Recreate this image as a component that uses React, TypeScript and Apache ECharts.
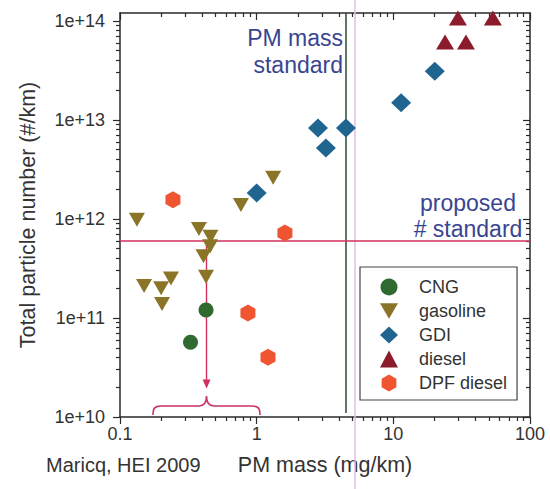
import React, { useEffect, useRef } from 'react';
import * as echarts from 'echarts';

// ---------------- data ----------------
const seriesNames = ['CNG', 'gasoline', 'GDI', 'diesel', 'DPF diesel'];

const cngData: number[][] = [
  [0.426, 1.2e11],
  [0.328, 5.7e10],
];

const gasolineData: number[][] = [
  [0.133, 9.8e11],
  [0.378, 7.9e11],
  [0.459, 6.6e11],
  [0.457, 5.3e11],
  [0.408, 4.2e11],
  [0.426, 2.6e11],
  [0.15, 2.1e11],
  [0.2, 2.0e11],
  [0.236, 2.5e11],
  [0.203, 1.38e11],
  [0.767, 1.38e12],
  [1.32, 2.6e12],
];

const gdiData: number[][] = [
  [1.0, 1.83e12],
  [2.81, 8.3e12],
  [3.21, 5.2e12],
  [4.5, 8.3e12],
  [11.4, 1.49e13],
  [20.1, 3.1e13],
];

const dieselData: number[][] = [
  [29.7, 1.07e14],
  [53.5, 1.07e14],
  [23.9, 6.1e13],
  [34.0, 6.1e13],
];

const dpfDieselData: number[][] = [
  [0.244, 1.56e12],
  [1.61, 7.2e11],
  [0.863, 1.12e11],
  [1.21, 4.0e10],
];

const xTickValues = [0.1, 1, 10, 100];
const xTickLabels = ['0.1', '1', '10', '100'];
const yTickValues = [1e10, 1e11, 1e12, 1e13, 1e14];
const yTickLabels = ['1e+10', '1e+11', '1e+12', '1e+13', '1e+14'];

const X_MIN = 0.1;
const X_MAX = 100;
const Y_MIN = 1e10;
const Y_MAX = 1.2e14;

const pmMassStandard = 4.5; // mg/km
const pmLineBottom = 1.1e10;
const proposedNumberStandard = 6e11; // #/km
const arrowX = 0.43;
const arrowBottom = 2.15e10;

// ---------------- helpers ----------------
function minorTicks(decades: number[], lo: number, hi: number): number[] {
  const out: number[] = [];
  decades.forEach((d) => {
    for (let k = 2; k <= 9; k++) {
      const v = Number((k * d).toPrecision(3));
      if (v > lo && v < hi) out.push(v);
    }
  });
  return out;
}
const xMinor = minorTicks(xTickValues, X_MIN, X_MAX);
const yMinor = minorTicks(yTickValues, Y_MIN, Y_MAX);

function labelFor(values: number[], labels: string[]) {
  return (v: number) => {
    const i = values.findIndex((t) => Math.abs(Math.log10(t) - Math.log10(v)) < 1e-6);
    return i >= 0 ? labels[i] : '';
  };
}

const FONT = '"Liberation Sans", Arial, Helvetica, sans-serif';
const AXIS_COLOR = '#2a2a2a';
const BLUE_TEXT = '#3a4590';

const BRACE_PATH =
  'M0,19 C0,12 2,10 8,10 L46,10 C51,10 53.5,6 53.5,0 C53.5,6 56,10 61,10 L99,10 C105,10 107,12 107,19';
echarts.graphic.registerShape('brace', echarts.graphic.extendPath(BRACE_PATH, {}) as any);

const HEX = 'path://M8.66,0 L17.32,5 L17.32,15 L8.66,20 L0,15 L0,5 Z';
const INV_TRI = 'path://M0,0 L20,0 L10,17 Z';

function makeAxes(kind: 'x' | 'y') {
  const isX = kind === 'x';
  const min = isX ? X_MIN : Y_MIN;
  const max = isX ? X_MAX : Y_MAX;
  const major = isX ? xTickValues : yTickValues;
  const minor = isX ? xMinor : yMinor;
  const posMain = isX ? 'bottom' : 'left';
  const posOther = isX ? 'top' : 'right';
  const base = {
    type: 'log',
    logBase: 10,
    min,
    max,
    splitLine: { show: false },
  };
  const mk = (position: string, ticks: number[], len: number, inside: boolean, line: boolean) => ({
    ...base,
    position,
    axisLine: { show: line, lineStyle: { color: AXIS_COLOR, width: 1.5 } },
    axisTick: {
      show: true,
      inside,
      length: len,
      customValues: ticks,
      lineStyle: { color: AXIS_COLOR, width: 1.2 },
    },
    axisLabel: { show: false },
  });
  const mainAxis: any = mk(posMain, major, 7, false, true);
  mainAxis.axisLabel = {
    show: true,
    customValues: major,
    formatter: labelFor(major, isX ? xTickLabels : yTickLabels),
    fontSize: 18,
    color: '#333',
    fontFamily: FONT,
    margin: isX ? 8 : 15,
  };
  if (isX) {
    mainAxis.name = 'PM mass (mg/km)';
    mainAxis.nameLocation = 'middle';
    mainAxis.nameGap = 37;
  } else {
    mainAxis.name = 'Total particle number (#/km)';
    mainAxis.nameLocation = 'middle';
    mainAxis.nameGap = 81;
    mainAxis.nameRotate = 90;
  }
  mainAxis.nameTextStyle = { fontSize: 21.5, color: '#333', fontFamily: FONT };
  return [
    mainAxis,
    mk(posMain, minor, 4, false, false),
    mk(posOther, major, 7, true, true),
    mk(posOther, minor, 4, true, false),
  ];
}

export default function App() {
  const ref = useRef<HTMLDivElement>(null);

  useEffect(() => {
    if (!ref.current) return;
    const chart = echarts.init(ref.current, undefined, { renderer: 'svg' });

    const scatter = (name: string, data: number[][], symbol: string, size: any, color: string) => ({
      name,
      type: 'scatter',
      xAxisIndex: 0,
      yAxisIndex: 0,
      data,
      symbol,
      symbolSize: size,
      itemStyle: { color, opacity: 1 },
      z: 5,
    });

    chart.setOption({
      animation: false,
      backgroundColor: '#ffffff',
      textStyle: { fontFamily: FONT },
      grid: { left: 120, right: 20, top: 13, bottom: 72 },
      xAxis: makeAxes('x'),
      yAxis: makeAxes('y'),
      legend: {
        data: seriesNames,
        orient: 'vertical',
        left: 360,
        top: 267,
        padding: [10, 10, 7, 20],
        itemWidth: 18,
        itemHeight: 17,
        itemGap: 4,
        borderColor: '#444',
        borderWidth: 1.2,
        selectedMode: false,
        textStyle: {
          fontSize: 18,
          color: '#333',
          fontFamily: FONT,
          lineHeight: 20,
          padding: [0, 0, 0, 16],
        },
      },
      series: [
        {
          type: 'scatter',
          data: [],
          xAxisIndex: 0,
          yAxisIndex: 0,
          silent: true,
          markLine: {
            silent: true,
            symbol: 'none',
            label: { show: false },
            data: [
              [
                { coord: [pmMassStandard, Y_MAX], lineStyle: { color: '#34553a', width: 1.6, type: 'solid' } },
                { coord: [pmMassStandard, pmLineBottom] },
              ],
              [
                { coord: [X_MIN, proposedNumberStandard], lineStyle: { color: '#d2305c', width: 1.6, type: 'solid' } },
                { coord: [X_MAX, proposedNumberStandard] },
              ],
            ],
          },
        },
        {
          type: 'scatter',
          data: [],
          xAxisIndex: 0,
          yAxisIndex: 0,
          silent: true,
          markLine: {
            silent: true,
            symbol: ['none', 'triangle'],
            symbolSize: [8, 9],
            symbolRotate: 180,
            label: { show: false },
            lineStyle: { color: '#d2305c', width: 1.4, type: 'solid' },
            data: [[{ coord: [arrowX, proposedNumberStandard] }, { coord: [arrowX, arrowBottom] }]],
          },
        },
        scatter('CNG', cngData, 'circle', 15, '#2f6a30'),
        scatter('gasoline', gasolineData, INV_TRI, [16, 14], '#8a7428'),
        scatter('GDI', gdiData, 'diamond', [20, 19], '#1f6590'),
        scatter('diesel', dieselData, 'triangle', [18, 15], '#8c1b2b'),
        scatter('DPF diesel', dpfDieselData, HEX, [15, 17], '#ee5530'),
      ],
      graphic: [
        {
          type: 'line',
          shape: { x1: 355, y1: 0, x2: 355, y2: 489 },
          style: { stroke: '#e6bde9', lineWidth: 1.5 },
          z: 1,
          silent: true,
        },
        {
          type: 'brace',
          x: 153,
          y: 396,
          style: { stroke: '#c8306a', fill: 'none', lineWidth: 1.6 },
          silent: true,
        },
        {
          type: 'text',
          x: 343,
          y: 24,
          style: {
            text: 'PM mass\nstandard',
            align: 'right',
            verticalAlign: 'top',
            fill: BLUE_TEXT,
            font: `23px ${FONT}`,
            lineHeight: 27,
          },
          silent: true,
        },
        {
          type: 'text',
          x: 468,
          y: 190,
          style: {
            text: 'proposed\n# standard',
            align: 'center',
            verticalAlign: 'top',
            fill: BLUE_TEXT,
            font: `23px ${FONT}`,
            lineHeight: 26,
          },
          silent: true,
        },
        {
          type: 'text',
          x: 46,
          y: 465,
          style: {
            text: 'Maricq, HEI 2009',
            align: 'left',
            verticalAlign: 'middle',
            fill: '#333',
            font: `20px ${FONT}`,
          },
          silent: true,
        },
      ],
    });

    return () => chart.dispose();
  }, []);

  return (
    <div
      ref={ref}
      style={{ position: 'absolute', left: 0, top: 0, width: 550, height: 489, background: '#fff' }}
    />
  );
}
